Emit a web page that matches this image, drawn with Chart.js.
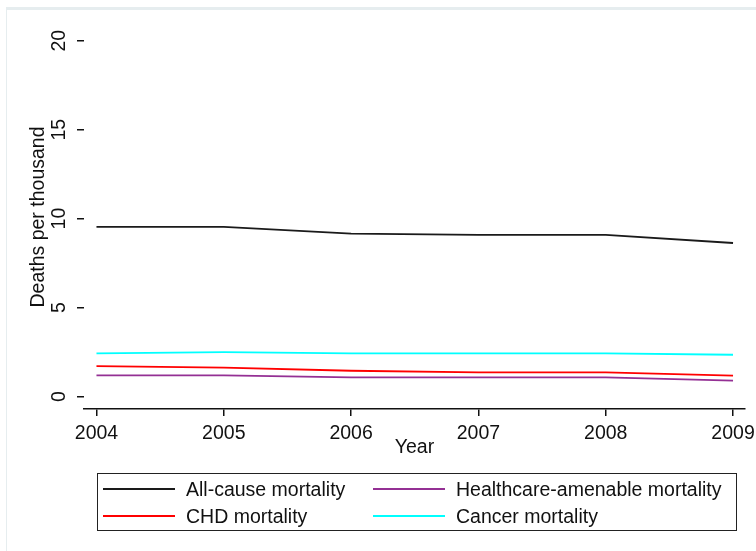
<!DOCTYPE html>
<html>
<head>
<meta charset="utf-8">
<script src="https://cdn.jsdelivr.net/npm/chart.js@4/dist/chart.umd.min.js"></script>
<style>
  html, body { margin: 0; padding: 0; background: #fff; }
  #wrap { position: relative; width: 756px; height: 551px; overflow: hidden; }
  #frame { position: absolute; left: 6px; top: 7px; width: 800px; height: 600px;
           border-top: 3px solid #e6edef; border-left: 1px solid #e6edef; }
  canvas { position: absolute; left: 0; top: 0; }
  #legend { position: absolute; left: 97px; top: 473px; width: 640px; height: 58px;
            border: 1px solid #222; box-sizing: border-box;
            font-family: "Liberation Sans", Arial, sans-serif; font-size: 19.5px; color: #111; }
  .item { position: absolute; height: 26px; display: flex; align-items: center; white-space: nowrap; }
  .swatch { width: 72px; height: 2px; margin-right: 11px; }
</style>
</head>
<body>
<div id="wrap">
  <div id="frame"></div>
  <canvas id="chart" width="756" height="551"></canvas>
  <div id="legend"></div>
</div>
<script>
// Mortality rates, deaths per thousand, by year
const years = [2004, 2005, 2006, 2007, 2008, 2009];
const allCause = [9.53, 9.53, 9.16, 9.08, 9.08, 8.63];
const healthcareAmenable = [1.19, 1.19, 1.08, 1.08, 1.08, 0.89];
const chd = [1.71, 1.62, 1.45, 1.36, 1.36, 1.17];
const cancer = [2.43, 2.50, 2.43, 2.43, 2.43, 2.35];
const yTicks = [0, 5, 10, 15, 20];

const seriesNames = ['All-cause mortality', 'Healthcare-amenable mortality', 'CHD mortality', 'Cancer mortality'];
const seriesValues = [allCause, healthcareAmenable, chd, cancer];
const seriesColors = ['#1a1a1a', '#943094', '#ff0000', '#00ffff'];

const FONT = { family: '"Liberation Sans", Arial, sans-serif', size: 19.5 };

const datasets = seriesNames.map((name, i) => ({
  label: name,
  data: years.map((yr, j) => ({ x: yr, y: seriesValues[i][j] })),
  borderColor: seriesColors[i],
  backgroundColor: seriesColors[i],
  borderWidth: 1.8,
  pointRadius: 0,
  tension: 0,
  fill: false
}));

const chart = new Chart(document.getElementById('chart'), {
  type: 'line',
  data: { datasets },
  options: {
    responsive: false,
    animation: false,
    layout: { padding: { left: 0, top: 25, right: 11, bottom: 82 } },
    plugins: { legend: { display: false }, tooltip: { enabled: false } },
    scales: {
      x: {
        type: 'linear',
        min: 2003.902,
        max: 2009.094,
        afterBuildTicks: s => { s.ticks = years.map(v => ({ value: v })); },
        afterFit: s => { s.height = 60; s.paddingLeft = 0; s.paddingRight = 0; },
        ticks: { font: FONT, color: '#111', padding: 6, maxRotation: 0, minRotation: 0,
                 callback: v => String(v) },
        grid: { display: true, drawOnChartArea: false, drawTicks: true, tickLength: 7,
                color: '#111', lineWidth: 1.5 },
        border: { display: true, color: '#111', width: 1.5 },
        title: { display: true, text: 'Year', font: FONT, color: '#111', padding: { top: 0, bottom: 9.6 } }
      },
      y: {
        min: -0.70,
        max: 20.88,
        afterBuildTicks: s => { s.ticks = yTicks.map(v => ({ value: v })); },
        afterFit: s => { s.width = 84; },
        ticks: { font: FONT, color: '#111', padding: 6.5, minRotation: 90, maxRotation: 90,
                 crossAlign: 'center', callback: v => String(v) },
        grid: { display: true, drawOnChartArea: false, drawTicks: true, tickLength: 7,
                color: '#111', lineWidth: 1.5 },
        border: { display: false },
        title: { display: true, text: 'Deaths per thousand', font: FONT, color: '#111',
                 padding: { top: 26.6, bottom: 0 } }
      }
    }
  }
});

// Two-column legend box built from the chart's datasets
const legend = document.getElementById('legend');
chart.data.datasets.forEach((ds, i) => {
  const col = i % 2, row = Math.floor(i / 2);
  const item = document.createElement('div');
  item.className = 'item';
  item.style.left = (col === 0 ? 5 : 275) + 'px';
  item.style.top = (row === 0 ? 2 : 29) + 'px';
  const sw = document.createElement('span');
  sw.className = 'swatch';
  sw.style.background = ds.borderColor;
  const tx = document.createElement('span');
  tx.textContent = ds.label;
  item.appendChild(sw);
  item.appendChild(tx);
  legend.appendChild(item);
});
</script>
</body>
</html>
